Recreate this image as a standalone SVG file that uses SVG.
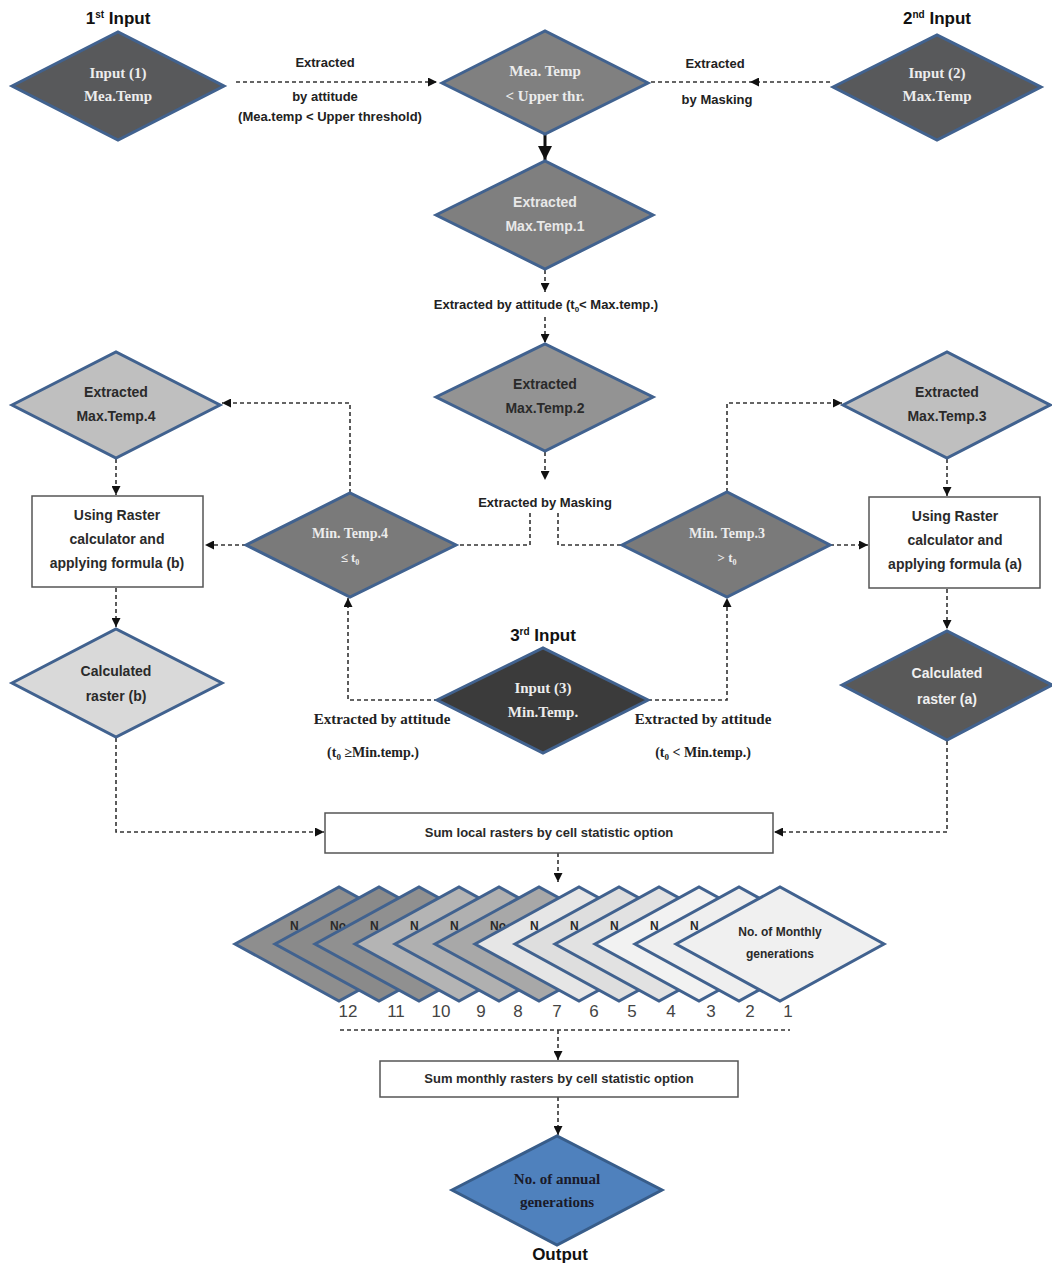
<svg xmlns="http://www.w3.org/2000/svg" width="1052" height="1264" viewBox="0 0 1052 1264">
<style>
.dia{stroke:#41628f;stroke-width:3;stroke-linejoin:miter}
.box{fill:#fff;stroke:#555;stroke-width:1.5}
.con{fill:none;stroke:#333;stroke-width:1.6;stroke-dasharray:4 3}
.sans{font-family:"Liberation Sans",Arial,sans-serif;font-weight:bold;text-anchor:middle}
.serif{font-family:"Liberation Serif","Times New Roman",serif;font-weight:bold;text-anchor:middle}
.lt{fill:#ececec}
.dk{fill:#2a2a2a}
.frag{font-family:"Liberation Sans",Arial,sans-serif;font-weight:bold;font-size:12px;fill:#2a2a2a}
.num{font-family:"Liberation Sans",Arial,sans-serif;font-size:17px;fill:#444;text-anchor:middle}
</style>
<defs>
<marker id="arr" markerUnits="userSpaceOnUse" markerWidth="9" markerHeight="9" refX="9" refY="4.5" orient="auto">
<path d="M0,0 L9,4.5 L0,9 z" fill="#111"/>
</marker>
<marker id="arrB" markerUnits="userSpaceOnUse" markerWidth="16" markerHeight="14" refX="14" refY="7" orient="auto">
<path d="M0,0 L14,7 L0,14 z" fill="#111"/>
</marker>
</defs>
<rect width="1052" height="1264" fill="#fff"/>

<g id="connectors">
<path class="con" d="M236,82 L437,82" marker-end="url(#arr)"/>
<path class="con" d="M830,82 L750,82 L650,82" marker-mid="url(#arr)"/>
<path d="M545,134 L545,160" stroke="#111" stroke-width="3" fill="none" marker-end="url(#arrB)"/>
<path class="con" d="M545,270 L545,292" marker-end="url(#arr)"/>
<path class="con" d="M545,317 L545,343" marker-end="url(#arr)"/>
<path class="con" d="M545,452 L545,480" marker-end="url(#arr)"/>
<path class="con" d="M530,513 L530,545 L458,545"/>
<path class="con" d="M558,513 L558,545 L622,545"/>
<path class="con" d="M350,493 L350,403 L222,403" marker-end="url(#arr)"/>
<path class="con" d="M727,492 L727,403 L842,403" marker-end="url(#arr)"/>
<path class="con" d="M116,459 L116,495" marker-end="url(#arr)"/>
<path class="con" d="M246,545 L205,545" marker-end="url(#arr)"/>
<path class="con" d="M947,459 L947,496" marker-end="url(#arr)"/>
<path class="con" d="M830,545 L868,545" marker-end="url(#arr)"/>
<path class="con" d="M116,588 L116,627" marker-end="url(#arr)"/>
<path class="con" d="M947,589 L947,629" marker-end="url(#arr)"/>
<path class="con" d="M438,700 L348,700 L348,598" marker-end="url(#arr)"/>
<path class="con" d="M648,700 L727,700 L727,598" marker-end="url(#arr)"/>
<path class="con" d="M116,738 L116,832 L324,832" marker-end="url(#arr)"/>
<path class="con" d="M947,741 L947,832 L774,832" marker-end="url(#arr)"/>
<path class="con" d="M558,853 L558,882" marker-end="url(#arr)"/>
<path class="con" d="M340,1030 L790,1030"/>
<path class="con" d="M558,1030 L558,1060" marker-end="url(#arr)"/>
<path class="con" d="M558,1097 L558,1135" marker-end="url(#arr)"/>
</g>

<g id="labels">
<text class="sans" x="118" y="24" font-size="17" fill="#111">1<tspan font-size="10" dy="-6">st</tspan><tspan dy="6"> Input</tspan></text>
<text class="sans" x="937" y="24" font-size="17" fill="#111">2<tspan font-size="10" dy="-6">nd</tspan><tspan dy="6"> Input</tspan></text>
<text class="sans" x="543" y="641" font-size="17" fill="#111">3<tspan font-size="10" dy="-6">rd</tspan><tspan dy="6"> Input</tspan></text>
<text class="sans" x="560" y="1260" font-size="17" fill="#111">Output</text>
<text class="sans" x="325" y="67" font-size="13" fill="#222">Extracted</text>
<text class="sans" x="325" y="101" font-size="13" fill="#222">by attitude</text>
<text class="sans" x="330" y="121" font-size="13" fill="#222">(Mea.temp &lt; Upper threshold)</text>
<text class="sans" x="715" y="68" font-size="13" fill="#222">Extracted</text>
<text class="sans" x="717" y="104" font-size="13" fill="#222">by Masking</text>
<text class="sans" x="546" y="309" font-size="13" fill="#222">Extracted by attitude (t<tspan font-size="8" dy="3">0</tspan><tspan dy="-3">&lt; Max.temp.)</tspan></text>
<text class="sans" x="545" y="507" font-size="13" fill="#222">Extracted by Masking</text>
<text class="serif" x="382" y="724" font-size="15" fill="#222">Extracted  by attitude</text>
<text class="serif" x="373" y="757" font-size="14" fill="#222">(t<tspan font-size="9" dy="3">0</tspan><tspan dy="-3"> ≥Min.temp.)</tspan></text>
<text class="serif" x="703" y="724" font-size="15" fill="#222">Extracted  by attitude</text>
<text class="serif" x="703" y="757" font-size="14" fill="#222">(t<tspan font-size="9" dy="3">0</tspan><tspan dy="-3"> &lt; Min.temp.)</tspan></text>
</g>

<g id="n-input1">
<polygon class="dia" points="12,86 118,32 224,86 118,140" fill="#58595b"/>
<text class="serif lt" x="118" y="78" font-size="15">Input (1)</text>
<text class="serif lt" x="118" y="101" font-size="15">Mea.Temp</text>
</g>
<g id="n-meatemp">
<polygon class="dia" points="442,83 545,31 648,83 545,134" fill="#808080"/>
<text class="serif lt" x="545" y="76" font-size="15">Mea. Temp</text>
<text class="serif lt" x="545" y="101" font-size="15">&lt; Upper thr.</text>
</g>
<g id="n-input2">
<polygon class="dia" points="833,87 937,35 1041,87 937,140" fill="#58595b"/>
<text class="serif lt" x="937" y="78" font-size="15">Input (2)</text>
<text class="serif lt" x="937" y="101" font-size="15">Max.Temp</text>
</g>
<g id="n-max1">
<polygon class="dia" points="436,215 545,161 653,215 545,269" fill="#7f7f7f"/>
<text class="sans" x="545" y="207" font-size="14" fill="#e8e8e8">Extracted</text>
<text class="sans" x="545" y="231" font-size="14" fill="#e8e8e8">Max.Temp.1</text>
</g>
<g id="n-max2">
<polygon class="dia" points="436,397 545,344 653,397 545,451" fill="#939393"/>
<text class="sans dk" x="545" y="389" font-size="14">Extracted</text>
<text class="sans dk" x="545" y="413" font-size="14">Max.Temp.2</text>
</g>
<g id="n-max4">
<polygon class="dia" points="12,405 116,352 220,405 116,458" fill="#bfbfbf"/>
<text class="sans dk" x="116" y="397" font-size="14">Extracted</text>
<text class="sans dk" x="116" y="421" font-size="14">Max.Temp.4</text>
</g>
<g id="n-max3">
<polygon class="dia" points="843,405 947,352 1050,405 947,458" fill="#bfbfbf"/>
<text class="sans dk" x="947" y="397" font-size="14">Extracted</text>
<text class="sans dk" x="947" y="421" font-size="14">Max.Temp.3</text>
</g>
<g id="n-min4">
<polygon class="dia" points="246,545 350,493 456,545 350,597" fill="#7a7a7a"/>
<text class="serif lt" x="350" y="538" font-size="14">Min. Temp.4</text>
<text class="serif lt" x="350" y="562" font-size="13">≤ t<tspan font-size="8" dy="3">0</tspan></text>
</g>
<g id="n-min3">
<polygon class="dia" points="622,545 727,492 830,545 727,597" fill="#7a7a7a"/>
<text class="serif lt" x="727" y="538" font-size="14">Min. Temp.3</text>
<text class="serif lt" x="727" y="562" font-size="13">&gt; t<tspan font-size="8" dy="3">0</tspan></text>
</g>
<g id="n-calcb-box">
<rect class="box" x="32" y="496" width="171" height="91"/>
<text class="sans dk" x="117" y="520" font-size="14">Using Raster</text>
<text class="sans dk" x="117" y="544" font-size="14">calculator and</text>
<text class="sans dk" x="117" y="568" font-size="14">applying formula (b)</text>
</g>
<g id="n-calca-box">
<rect class="box" x="869" y="497" width="171" height="91"/>
<text class="sans dk" x="955" y="521" font-size="14">Using Raster</text>
<text class="sans dk" x="955" y="545" font-size="14">calculator and</text>
<text class="sans dk" x="955" y="569" font-size="14">applying formula (a)</text>
</g>
<g id="n-rasterb">
<polygon class="dia" points="12,683 116,629 222,683 116,737" fill="#d9d9d9"/>
<text class="sans dk" x="116" y="676" font-size="14">Calculated</text>
<text class="sans dk" x="116" y="701" font-size="14">raster (b)</text>
</g>
<g id="n-rastera">
<polygon class="dia" points="842,685 947,631 1052,685 947,740" fill="#595959"/>
<text class="sans" x="947" y="678" font-size="14" fill="#f0f0f0">Calculated</text>
<text class="sans" x="947" y="704" font-size="14" fill="#f0f0f0">raster (a)</text>
</g>
<g id="n-input3">
<polygon class="dia" points="437,700 543,648 648,700 543,753" fill="#3b3b3b"/>
<text class="serif lt" x="543" y="693" font-size="15">Input (3)</text>
<text class="serif lt" x="543" y="717" font-size="15">Min.Temp.</text>
</g>
<g id="n-sumlocal">
<rect class="box" x="325" y="813" width="448" height="40"/>
<text class="sans dk" x="549" y="837" font-size="13">Sum local rasters by cell statistic option</text>
</g>

<g id="n-monthly">
<g id="m12"><polygon class="dia" points="235,944 339,887 443,944 339,1001" fill="#8e8e8e"/><text class="frag" x="290" y="930">N</text></g>
<g id="m11"><polygon class="dia" points="275,944 379,887 483,944 379,1001" fill="#8a8a8a"/><text class="frag" x="330" y="930">No</text></g>
<g id="m10"><polygon class="dia" points="315,944 419,887 523,944 419,1001" fill="#909090"/><text class="frag" x="370" y="930">N</text></g>
<g id="m9"><polygon class="dia" points="355,944 459,887 563,944 459,1001" fill="#b4b4b4"/><text class="frag" x="410" y="930">N</text></g>
<g id="m8"><polygon class="dia" points="395,944 499,887 603,944 499,1001" fill="#b0b0b0"/><text class="frag" x="450" y="930">N</text></g>
<g id="m7"><polygon class="dia" points="435,944 539,887 643,944 539,1001" fill="#a8a8a8"/><text class="frag" x="490" y="930">No</text></g>
<g id="m6"><polygon class="dia" points="475,944 579,887 683,944 579,1001" fill="#e6e6e6"/><text class="frag" x="530" y="930">N</text></g>
<g id="m5"><polygon class="dia" points="515,944 619,887 723,944 619,1001" fill="#dedede"/><text class="frag" x="570" y="930">N</text></g>
<g id="m4"><polygon class="dia" points="555,944 659,887 763,944 659,1001" fill="#e2e2e2"/><text class="frag" x="610" y="930">N</text></g>
<g id="m3"><polygon class="dia" points="595,944 699,887 803,944 699,1001" fill="#f2f2f2"/><text class="frag" x="650" y="930">N</text></g>
<g id="m2"><polygon class="dia" points="635,944 739,887 843,944 739,1001" fill="#efefef"/><text class="frag" x="690" y="930">N</text></g>
<g id="m1"><polygon class="dia" points="676,944 780,887 884,944 780,1001" fill="#f0f0f0"/><text class="sans dk" font-size="12" x="780" y="936">No. of Monthly</text><text class="sans dk" font-size="12" x="780" y="958">generations</text></g>
</g>

<g id="numbers">
<text class="num" x="348" y="1017">12</text>
<text class="num" x="396" y="1017">11</text>
<text class="num" x="441" y="1017">10</text>
<text class="num" x="481" y="1017">9</text>
<text class="num" x="518" y="1017">8</text>
<text class="num" x="557" y="1017">7</text>
<text class="num" x="594" y="1017">6</text>
<text class="num" x="632" y="1017">5</text>
<text class="num" x="671" y="1017">4</text>
<text class="num" x="711" y="1017">3</text>
<text class="num" x="750" y="1017">2</text>
<text class="num" x="788" y="1017">1</text>
</g>

<g id="n-summonthly">
<rect class="box" x="380" y="1061" width="358" height="36"/>
<text class="sans dk" x="559" y="1083" font-size="13">Sum monthly rasters by cell statistic option</text>
</g>
<g id="n-output">
<polygon class="dia" points="452,1190 557,1136 662,1190 557,1245" fill="#4f81bd" style="stroke:#385d8a"/>
<text class="serif" x="557" y="1184" font-size="15" fill="#1a1a2a">No. of annual</text>
<text class="serif" x="557" y="1207" font-size="15" fill="#1a1a2a">generations</text>
</g>
</svg>
